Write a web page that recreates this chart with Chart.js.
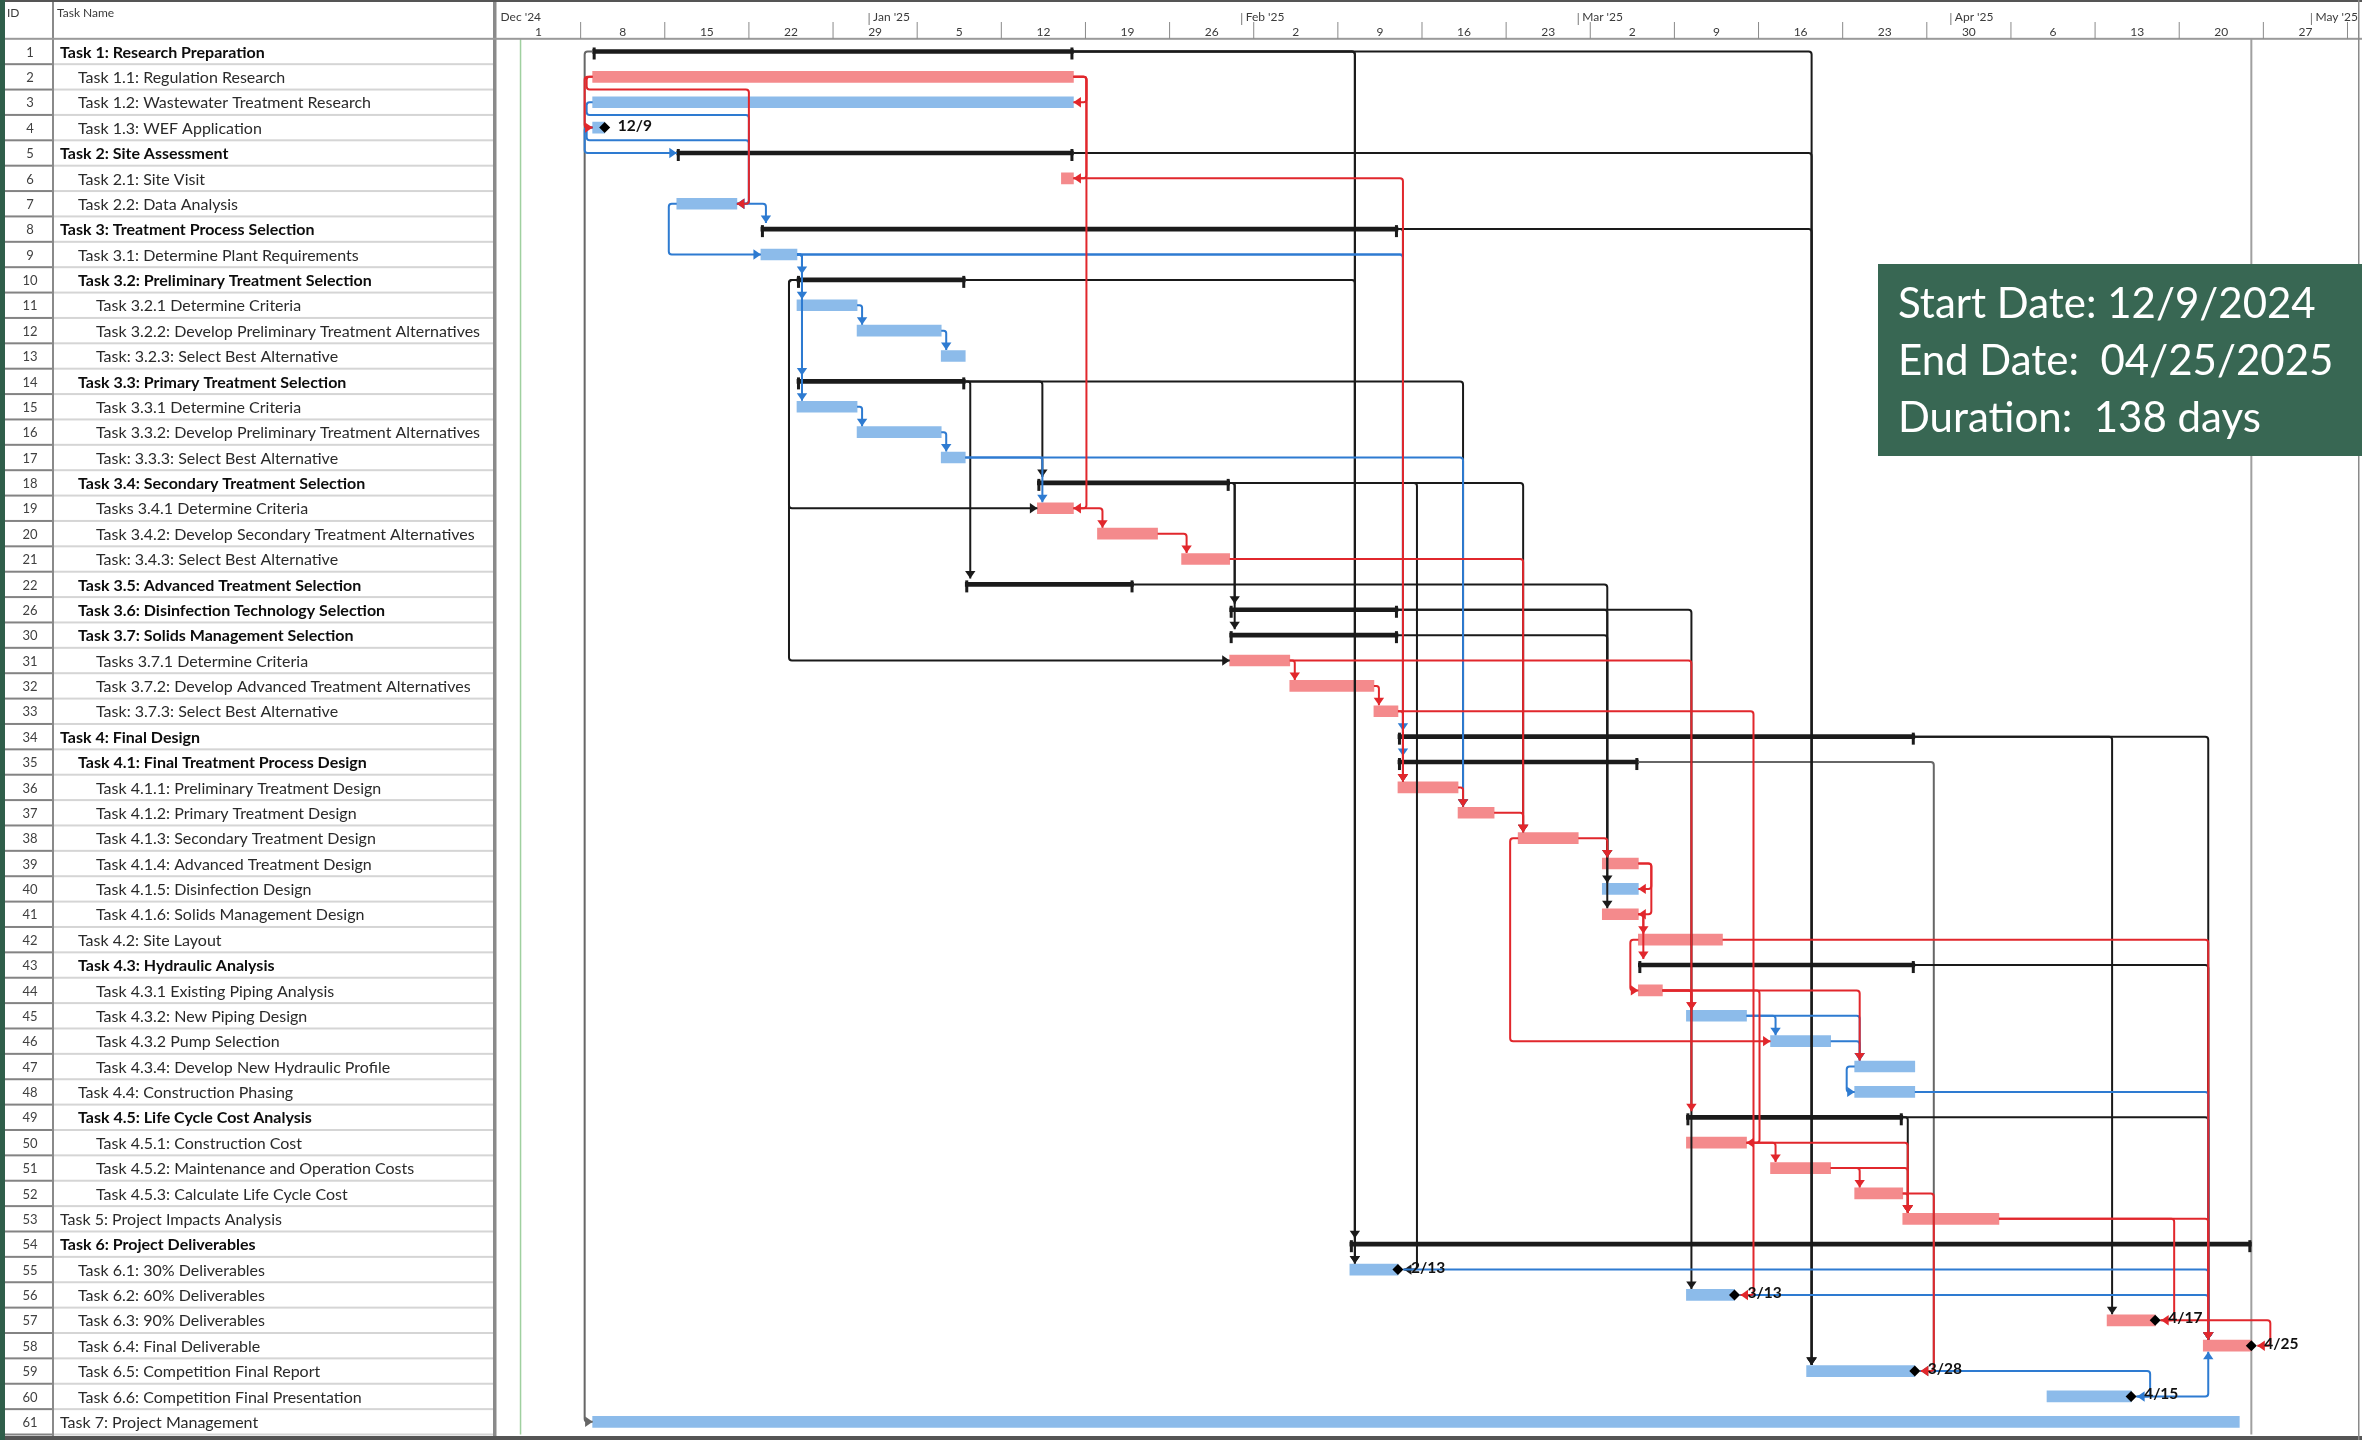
<!DOCTYPE html>
<html>
<head>
<meta charset="utf-8">
<title>Project Schedule</title>
<script src="https://cdn.jsdelivr.net/npm/chart.js@4.4.1/dist/chart.umd.min.js"></script>
<style>
  html, body { margin: 0; padding: 0; background: #ffffff; }
  canvas { display: block; }
</style>
</head>
<body>
<canvas id="gantt" width="2362" height="1440"></canvas>
<script>
// ---------------- schedule ----------------
const taskIds = [1,2,3,4,5,6,7,8,9,10,11,12,13,14,15,16,17,18,19,20,21,22,26,30,31,32,33,34,35,36,37,38,39,40,41,42,43,44,45,46,47,48,49,50,51,52,53,54,55,56,57,58,59,60,61];

const taskNames = [
  'Task 1: Research Preparation',
  'Task 1.1: Regulation Research',
  'Task 1.2: Wastewater Treatment Research',
  'Task 1.3: WEF Application',
  'Task 2: Site Assessment',
  'Task 2.1: Site Visit',
  'Task 2.2: Data Analysis',
  'Task 3: Treatment Process Selection',
  'Task 3.1: Determine Plant Requirements',
  'Task 3.2: Preliminary Treatment Selection',
  'Task 3.2.1 Determine Criteria',
  'Task 3.2.2: Develop Preliminary Treatment Alternatives',
  'Task: 3.2.3: Select Best Alternative',
  'Task 3.3: Primary Treatment Selection',
  'Task 3.3.1 Determine Criteria',
  'Task 3.3.2: Develop Preliminary Treatment Alternatives',
  'Task: 3.3.3: Select Best Alternative',
  'Task 3.4: Secondary Treatment Selection',
  'Tasks 3.4.1 Determine Criteria',
  'Task 3.4.2: Develop Secondary Treatment Alternatives',
  'Task: 3.4.3: Select Best Alternative',
  'Task 3.5: Advanced Treatment Selection',
  'Task 3.6: Disinfection Technology Selection',
  'Task 3.7: Solids Management Selection',
  'Tasks 3.7.1 Determine Criteria',
  'Task 3.7.2: Develop Advanced Treatment Alternatives',
  'Task: 3.7.3: Select Best Alternative',
  'Task 4: Final Design',
  'Task 4.1: Final Treatment Process Design',
  'Task 4.1.1: Preliminary Treatment Design',
  'Task 4.1.2: Primary Treatment Design',
  'Task 4.1.3: Secondary Treatment Design',
  'Task 4.1.4: Advanced Treatment Design',
  'Task 4.1.5: Disinfection Design',
  'Task 4.1.6: Solids Management Design',
  'Task 4.2: Site Layout',
  'Task 4.3: Hydraulic Analysis',
  'Task 4.3.1 Existing Piping Analysis',
  'Task 4.3.2: New Piping Design',
  'Task 4.3.2 Pump Selection',
  'Task 4.3.4: Develop New Hydraulic Profile',
  'Task 4.4: Construction Phasing',
  'Task 4.5: Life Cycle Cost Analysis',
  'Task 4.5.1: Construction Cost',
  'Task 4.5.2: Maintenance and Operation Costs',
  'Task 4.5.3: Calculate Life Cycle Cost',
  'Task 5: Project Impacts Analysis',
  'Task 6: Project Deliverables',
  'Task 6.1: 30% Deliverables',
  'Task 6.2: 60% Deliverables',
  'Task 6.3: 90% Deliverables',
  'Task 6.4: Final Deliverable',
  'Task 6.5: Competition Final Report',
  'Task 6.6: Competition Final Presentation',
  'Task 7: Project Management'
];

// outline level of each row (indent)
const taskLevels = [0,1,1,1,0,1,1,0,1,1,2,2,2,1,2,2,2,1,2,2,2,1,1,1,2,2,2,0,1,2,2,2,2,2,2,1,1,2,2,2,2,1,1,2,2,2,0,0,1,1,1,1,1,1,0];

// sum = summary task, crit = critical task, norm = non-critical task
const taskKinds = [
  'sum','crit','norm','norm','sum','crit','norm','sum','norm','sum',
  'norm','norm','norm','sum','norm','norm','norm','sum','crit','crit',
  'crit','sum','sum','sum','crit','crit','crit','sum','sum','crit',
  'crit','crit','crit','norm','crit','crit','sum','crit','norm','norm',
  'norm','norm','sum','crit','crit','crit','crit','sum','norm','norm',
  'crit','crit','norm','norm','norm'
];

const taskStarts = [
  '2024-12-09','2024-12-09','2024-12-09','2024-12-09','2024-12-16','2025-01-17','2024-12-16','2024-12-23','2024-12-23','2024-12-26',
  '2024-12-26','2024-12-31','2025-01-07','2024-12-26','2024-12-26','2024-12-31','2025-01-07','2025-01-15','2025-01-15','2025-01-20',
  '2025-01-27','2025-01-09','2025-01-31','2025-01-31','2025-01-31','2025-02-05','2025-02-12','2025-02-14','2025-02-14','2025-02-14',
  '2025-02-19','2025-02-24','2025-03-03','2025-03-03','2025-03-03','2025-03-06','2025-03-06','2025-03-06','2025-03-10','2025-03-17',
  '2025-03-24','2025-03-24','2025-03-10','2025-03-10','2025-03-17','2025-03-24','2025-03-28','2025-02-10','2025-02-10','2025-03-10',
  '2025-04-14','2025-04-22','2025-03-20','2025-04-09','2024-12-09'
];

const taskFinishes = [
  '2025-01-17','2025-01-17','2025-01-17','2024-12-09','2025-01-17','2025-01-17','2024-12-20','2025-02-13','2024-12-25','2025-01-08',
  '2024-12-30','2025-01-06','2025-01-08','2025-01-08','2024-12-30','2025-01-06','2025-01-08','2025-01-30','2025-01-17','2025-01-24',
  '2025-01-30','2025-01-22','2025-02-13','2025-02-13','2025-02-04','2025-02-11','2025-02-13','2025-03-28','2025-03-05','2025-02-18',
  '2025-02-21','2025-02-28','2025-03-05','2025-03-05','2025-03-05','2025-03-12','2025-03-28','2025-03-07','2025-03-14','2025-03-21',
  '2025-03-28','2025-03-28','2025-03-27','2025-03-14','2025-03-21','2025-03-27','2025-04-04','2025-04-25','2025-02-13','2025-03-13',
  '2025-04-17','2025-04-25','2025-03-28','2025-04-15','2025-04-24'
];

// tasks flagged as milestones (diamond + finish date at the end of the bar)
const milestoneIds = [4,55,56,57,58,59,60];

// dependencies: [predecessor ID, successor ID, type, colour key]
const links = [
  [1,54,'FS','k'],[1,55,'FS','k'],[1,59,'FS','k'],[1,61,'SS','g'],
  [5,59,'FS','k'],[8,59,'FS','k'],[8,36,'FS','k'],
  [10,55,'FS','k'],[10,19,'SS','k'],[10,31,'SS','k'],
  [14,18,'FS','k'],[14,22,'FS','k'],[14,37,'FS','k'],
  [18,26,'FS','k'],[18,30,'FS','k'],[18,38,'FS','k'],[18,55,'FF','k'],
  [22,39,'FS','k'],[26,40,'FS','k'],[26,56,'FS','k'],[30,41,'FS','k'],
  [34,57,'FS','k'],[34,58,'FS','k'],[35,59,'FF','g'],[43,58,'FS','k'],[49,58,'FS','k'],[49,53,'FS','k'],

  [3,7,'SF','b'],[4,7,'SF','b'],[4,5,'SS','b'],[7,8,'FS','b'],[7,9,'SS','b'],
  [9,10,'FS','b'],[9,11,'FS','b'],[9,14,'FS','b'],[9,15,'FS','b'],[9,34,'FS','b'],[9,35,'FS','b'],
  [11,12,'FS','b'],[12,13,'FS','b'],[15,16,'FS','b'],[16,17,'FS','b'],
  [17,19,'FS','b'],[17,37,'FS','b'],
  [45,46,'FS','b'],[45,47,'FS','b'],[46,47,'FS','b'],[47,48,'SS','b'],
  [48,58,'FS','b'],[55,58,'FS','b'],[56,58,'FS','b'],[59,60,'FF','b'],[60,58,'FS','b'],

  [2,3,'FF','r'],[2,4,'SS','r'],[2,6,'FF','r'],[2,7,'SF','r'],[2,19,'FF','r'],
  [6,36,'FS','r'],
  [19,20,'FS','r'],[20,21,'FS','r'],[21,38,'FS','r'],
  [31,32,'FS','r'],[32,33,'FS','r'],[33,36,'FS','r'],[33,56,'FF','r'],[31,45,'FS','r'],
  [36,37,'FS','r'],[37,38,'FS','r'],[38,39,'FS','r'],[38,46,'SS','r'],
  [39,40,'FF','r'],[39,41,'FF','r'],[41,42,'FS','r'],[41,43,'FS','r'],[42,44,'SS','r'],[42,58,'FS','r'],
  [44,45,'FS','r'],[44,47,'FS','r'],[44,49,'FS','r'],[44,50,'FF','r'],
  [50,51,'FS','r'],[50,53,'FS','r'],[51,52,'FS','r'],[51,53,'FS','r'],[52,53,'FS','r'],[52,59,'FF','r'],
  [53,57,'FF','r'],[53,58,'FS','r'],[57,58,'FF','r']
];

// timescale
const timelineStart = '2024-12-01';
const timelineSpanDays = 154.75;
const monthLabels = ["Dec '24", "Jan '25", "Feb '25", "Mar '25", "Apr '25", "May '25"];
const monthStarts = ['2024-12-01','2025-01-01','2025-02-01','2025-03-01','2025-04-01','2025-05-01'];
const weekLabels = ['1','8','15','22','29','5','12','19','26','2','9','16','23','2','9','16','23','30','6','13','20','27'];
const statusDate = '2024-12-03';
const projectFinish = '2025-04-25';

const columnHeaders = ['ID', 'Task Name'];
const infoLines = ['Start Date: 12/9/2024', 'End Date:  04/25/2025', 'Duration:  138 days'];

// ---------------- derived values ----------------
const DAY_MS = 86400000;
const [t0y, t0m, t0d] = timelineStart.split('-').map(Number);
const T0 = Date.UTC(t0y, t0m - 1, t0d);
function dayIndex(iso) {
  const [y, m, d] = iso.split('-').map(Number);
  return (Date.UTC(y, m - 1, d) - T0) / DAY_MS;
}
const rowOf = {};
taskIds.forEach((id, i) => { rowOf[id] = i; });
const startDay = taskStarts.map(dayIndex);
const endDay = taskFinishes.map(d => dayIndex(d) + 1);
const isMilestone = taskIds.map(id => milestoneIds.includes(id));
const barData = kind => taskKinds.map((k, i) => (k === kind ? [startDay[i], endDay[i]] : null));
const shortDate = iso => { const [, m, d] = iso.split('-').map(Number); return m + '/' + d; };

// ---------------- styling ----------------
const COLORS = {
  crit: '#F48A8C', norm: '#8CBBEA', sum: '#1b1b1b',
  link: { r: '#E1272C', b: '#2E7BD1', k: '#1a1a1a', g: '#666666' },
  text: '#2a2a2a', header: '#3a3a3a', infoBox: '#386753'
};
const FONT = 'Lato, "Open Sans", sans-serif';
const TABLE = { left: 5, idRight: 53, nameRight: 494, headerBottom: 38.8 };

function roundedPath(ctx, pts) {
  ctx.beginPath();
  ctx.moveTo(pts[0][0], pts[0][1]);
  for (let i = 1; i < pts.length - 1; i++) {
    const a = pts[i - 1], b = pts[i], c = pts[i + 1];
    const r = Math.min(3, Math.hypot(b[0] - a[0], b[1] - a[1]) / 2, Math.hypot(c[0] - b[0], c[1] - b[1]) / 2);
    if (r > 0.3) ctx.arcTo(b[0], b[1], c[0], c[1], r); else ctx.lineTo(b[0], b[1]);
  }
  const last = pts[pts.length - 1];
  ctx.lineTo(last[0], last[1]);
}

function arrowHead(ctx, tip, prev, color) {
  const dx = tip[0] - prev[0], dy = tip[1] - prev[1];
  const len = Math.hypot(dx, dy) || 1;
  const ux = dx / len, uy = dy / len;
  const L = 7.5, W = 5.2;
  ctx.beginPath();
  ctx.moveTo(tip[0], tip[1]);
  ctx.lineTo(tip[0] - ux * L - uy * W, tip[1] - uy * L + ux * W);
  ctx.lineTo(tip[0] - ux * L + uy * W, tip[1] - uy * L - ux * W);
  ctx.closePath();
  ctx.fillStyle = color;
  ctx.fill();
}

function routeLink(link, X, Y) {
  const [fromId, toId, type] = link;
  const p = rowOf[fromId], s = rowOf[toId];
  const yp = Y(p), ys = Y(s);
  const dn = ys > yp ? 1 : -1;
  const pS = X(startDay[p]), pF = X(endDay[p]) + (isMilestone[p] ? 5 : 0);
  const sS = X(startDay[s]), sF = X(endDay[s]) + (isMilestone[s] ? 6 : 0);
  if (type === 'FS') {
    const vx = sS + 5;
    if (vx >= pF + 3) return [[pF, yp], [vx, yp], [vx, ys - dn * 6]];
    const mid = yp + dn * 12.7, lx = sS - 8;
    return [[pF, yp], [pF + 6, yp], [pF + 6, mid], [lx, mid], [lx, ys], [sS, ys]];
  }
  if (type === 'SS') {
    const vx = Math.min(pS, sS) - 8;
    return [[pS, yp], [vx, yp], [vx, ys], [sS, ys]];
  }
  if (type === 'FF') {
    const vx = Math.max(pF, sF) + 13;
    return [[pF, yp], [vx, yp], [vx, ys], [sF, ys]];
  }
  const lx = pS - 6, mid = yp + dn * 12.7, rx = sF + 12;
  return [[pS, yp], [lx, yp], [lx, mid], [rx, mid], [rx, ys], [sF, ys]];
}

const ganttPlugin = {
  id: 'ganttFrame',
  beforeDraw(chart) {
    const { ctx, width, height } = chart;
    const xs = chart.scales.x, ys = chart.scales.y;
    const X = v => xs.getPixelForValue(v);
    const rowH = (ys.bottom - ys.top) / taskIds.length;
    ctx.save();
    ctx.fillStyle = '#ffffff';
    ctx.fillRect(0, 0, width, height);

    // status date and project finish lines
    ctx.fillStyle = '#9fd09f';
    ctx.fillRect(X(dayIndex(statusDate)) - 0.75, ys.top, 1.5, ys.bottom - ys.top);
    ctx.fillStyle = '#a0a0a0';
    ctx.fillRect(X(dayIndex(projectFinish) + 1) - 1, ys.top, 2, ys.bottom - ys.top);

    // table rows
    ctx.textBaseline = 'middle';
    for (let i = 0; i < taskIds.length; i++) {
      const yc = ys.getPixelForValue(i);
      const yb = yc + rowH / 2;
      ctx.fillStyle = '#d5d5d5';
      ctx.fillRect(TABLE.idRight, yb - 1, TABLE.nameRight - TABLE.idRight, 2);
      ctx.fillStyle = '#838383';
      ctx.fillRect(TABLE.left, yb - 1, TABLE.idRight - TABLE.left, 2);
      ctx.fillStyle = '#404040';
      ctx.font = '13px ' + FONT;
      ctx.textAlign = 'center';
      ctx.fillText(String(taskIds[i]), 30, yc + 1);
      const bold = taskKinds[i] === 'sum';
      ctx.fillStyle = bold ? '#0d0d0d' : COLORS.text;
      ctx.font = (bold ? 'bold ' : '') + '16px ' + FONT;
      ctx.textAlign = 'left';
      ctx.fillText(taskNames[i], 60 + 18 * taskLevels[i], yc + 1);
    }

    // column dividers
    ctx.fillStyle = '#8a8a8a';
    ctx.fillRect(TABLE.idRight - 1, 0, 2, height);
    ctx.fillRect(TABLE.nameRight - 1, 0, 3, height);
    ctx.fillStyle = '#c4c4c4';
    ctx.fillRect(TABLE.nameRight + 2, 0, 1, height);

    // header
    ctx.fillStyle = '#9a9a9a';
    ctx.fillRect(TABLE.left, TABLE.headerBottom - 1, width, 2);
    ctx.fillStyle = COLORS.header;
    ctx.font = '12px ' + FONT;
    ctx.textBaseline = 'alphabetic';
    ctx.textAlign = 'left';
    ctx.fillText(columnHeaders[0], 7, 17);
    ctx.fillText(columnHeaders[1], 57, 17);

    // timescale: months
    monthStarts.forEach((m, i) => {
      const x = X(dayIndex(m));
      if (i > 0) { ctx.fillStyle = '#7a7a7a'; ctx.fillRect(x - 0.5, 13, 1, 12); }
      ctx.fillStyle = COLORS.header;
      ctx.font = '12px ' + FONT;
      ctx.textAlign = 'left';
      ctx.fillText(monthLabels[i], x + 4, 21);
    });
    // timescale: weeks
    for (let w = 0; w <= weekLabels.length; w++) {
      const d = dayIndex(timelineStart) + 7 * w;
      const x = X(d);
      if (w > 0 && x < width) { ctx.fillStyle = '#8a8a8a'; ctx.fillRect(x - 0.5, 22, 1, TABLE.headerBottom - 22); }
      if (w < weekLabels.length) {
        ctx.fillStyle = COLORS.header;
        ctx.font = '12px ' + FONT;
        ctx.textAlign = 'center';
        ctx.fillText(weekLabels[w], X(d + 3.5), 36);
      }
    }
    ctx.restore();
  },
  beforeDatasetDraw(chart, args) {
    if (chart.data.datasets[args.index].type !== 'scatter') return;
    const { ctx } = chart;
    const X = v => chart.scales.x.getPixelForValue(v);
    const Y = r => chart.scales.y.getPixelForValue(r);
    ctx.save();
    // summary end marks
    ctx.fillStyle = COLORS.sum;
    taskKinds.forEach((k, i) => {
      if (k !== 'sum') return;
      const yc = Y(i);
      ctx.fillRect(X(startDay[i]), yc - 4, 3, 12);
      ctx.fillRect(X(endDay[i]) - 3, yc - 4, 3, 12);
    });
    // dependency lines
    ctx.lineWidth = 2;
    ctx.lineJoin = 'round';
    ['g', 'k', 'b', 'r'].forEach(key => {
      links.filter(l => l[3] === key).forEach(l => {
        const pts = routeLink(l, X, Y);
        const color = COLORS.link[key];
        ctx.strokeStyle = color;
        roundedPath(ctx, pts);
        ctx.stroke();
        arrowHead(ctx, pts[pts.length - 1], pts[pts.length - 2], color);
      });
    });
    ctx.restore();
  },
  afterDatasetsDraw(chart) {
    const { ctx } = chart;
    const X = v => chart.scales.x.getPixelForValue(v);
    const Y = r => chart.scales.y.getPixelForValue(r);
    ctx.save();
    ctx.fillStyle = '#111111';
    ctx.font = 'bold 15.5px ' + FONT;
    ctx.textAlign = 'left';
    ctx.textBaseline = 'middle';
    milestoneIds.forEach(id => {
      const i = rowOf[id];
      ctx.fillText(shortDate(taskFinishes[i]), X(endDay[i]) + 13, Y(i) - 2);
    });
    ctx.restore();
  },
  afterDraw(chart) {
    const { ctx, width, height } = chart;
    ctx.save();
    // frame
    ctx.fillStyle = '#555555';
    ctx.fillRect(0, 0, width, 2);
    ctx.fillRect(0, height - 4, width, 4);
    ctx.fillStyle = '#8a8a8a';
    ctx.fillRect(width - 4, 0, 1.5, height);
    ctx.fillStyle = '#2f5e4a';
    ctx.fillRect(0, 0, TABLE.left, height);
    // summary box
    ctx.fillStyle = COLORS.infoBox;
    ctx.fillRect(1878, 264, width - 1878, 192);
    ctx.fillStyle = '#ffffff';
    ctx.font = '42px ' + FONT;
    ctx.textAlign = 'left';
    ctx.textBaseline = 'alphabetic';
    infoLines.forEach((t, i) => ctx.fillText(t, 1898, 318 + i * 57));
    ctx.restore();
  }
};

const t0 = dayIndex(timelineStart);
new Chart(document.getElementById('gantt'), {
  type: 'bar',
  data: {
    labels: taskIds.map(String),
    datasets: [
      { type: 'bar', label: 'Summary', data: barData('sum'), backgroundColor: COLORS.sum,
        barThickness: 4, grouped: false, borderWidth: 0, order: 3 },
      { type: 'bar', label: 'Critical', data: barData('crit'), backgroundColor: COLORS.crit,
        barThickness: 11, grouped: false, borderWidth: 0, order: 2 },
      { type: 'bar', label: 'Task', data: barData('norm'), backgroundColor: COLORS.norm,
        barThickness: 11, grouped: false, borderWidth: 0, order: 2 },
      { type: 'scatter', label: 'Milestone',
        data: milestoneIds.map(id => ({ x: endDay[rowOf[id]], y: String(id) })),
        pointStyle: 'rectRot', pointRadius: 5.5, backgroundColor: '#000000', borderColor: '#000000',
        borderWidth: 0, order: 0 }
    ]
  },
  options: {
    responsive: false,
    animation: false,
    events: [],
    indexAxis: 'y',
    layout: { padding: { left: 496.5, top: TABLE.headerBottom, right: 0, bottom: 4.2 } },
    scales: {
      x: { type: 'linear', min: t0, max: t0 + timelineSpanDays, display: false },
      y: { type: 'category', offset: true, display: false }
    },
    plugins: { legend: { display: false }, tooltip: { enabled: false } }
  },
  plugins: [ganttPlugin]
});
</script>
</body>
</html>
